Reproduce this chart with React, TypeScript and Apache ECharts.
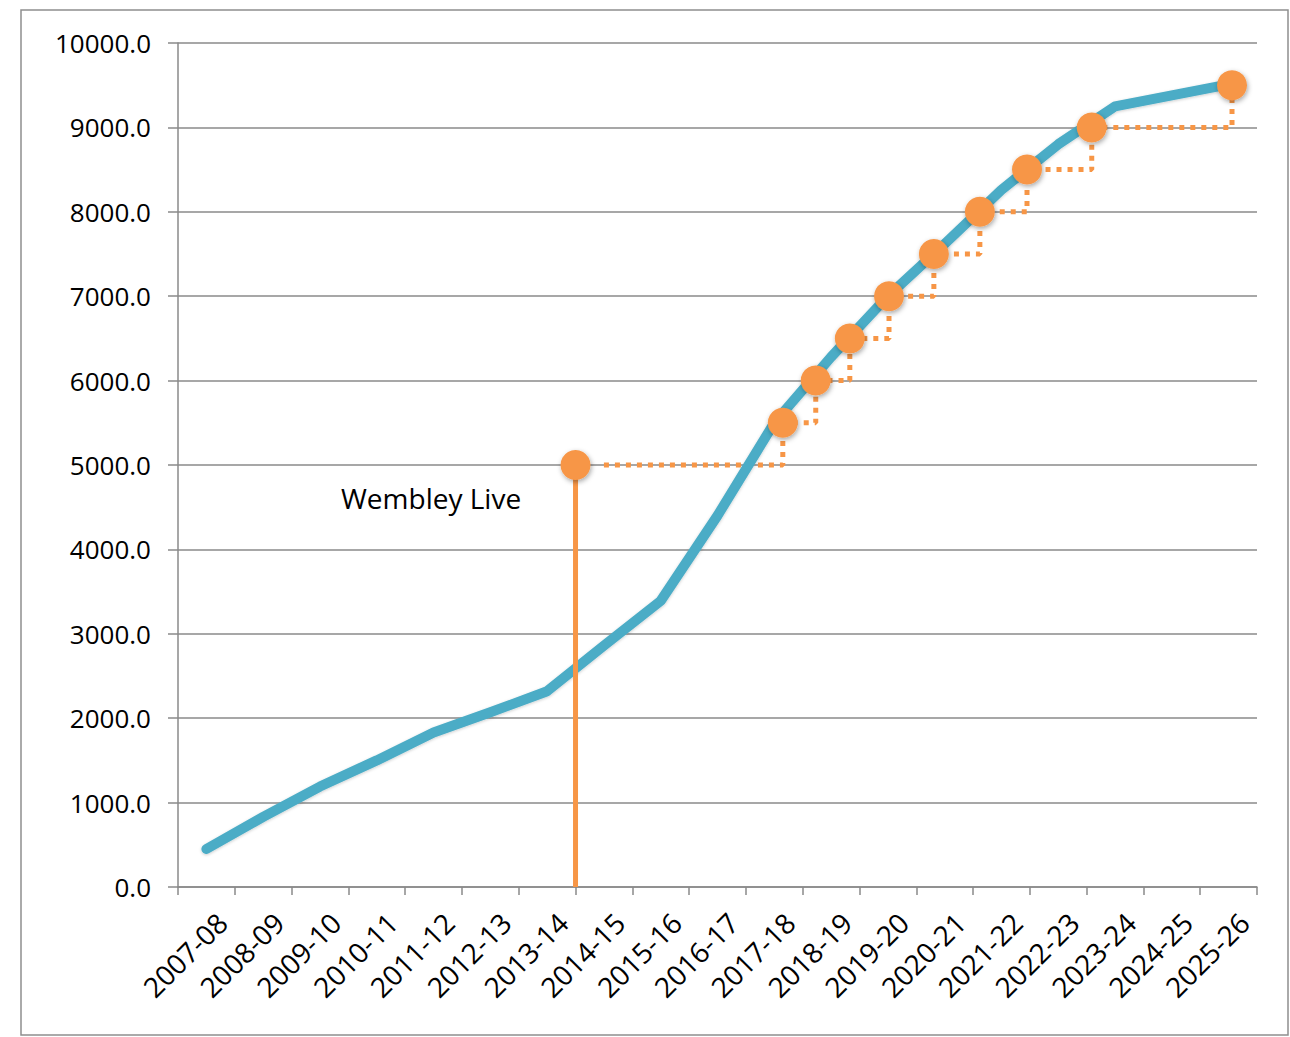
import React, { useEffect, useRef } from "react";
import * as echarts from "echarts";

const categories = [
  "2007-08", "2008-09", "2009-10", "2010-11", "2011-12", "2012-13", "2013-14",
  "2014-15", "2015-16", "2016-17", "2017-18", "2018-19", "2019-20", "2020-21",
  "2021-22", "2022-23", "2023-24", "2024-25", "2025-26",
];
const lineValues = [
  450, 830, 1190, 1500, 1830, 2070, 2320, 2860, 3390, 4400, 5500, 6280, 7000,
  7620, 8260, 8800, 9250, 9380, 9510,
];
// milestone markers: position along the category span (0..19) and value
const milestoneX = [7.0, 10.65, 11.23, 11.83, 12.52, 13.31, 14.12, 14.95, 16.09, 18.56];
const milestoneY = [5000, 5500, 6000, 6500, 7000, 7500, 8000, 8500, 9000, 9500];
const stepStartX = 7.5;
const wembleyX = 7.0;
const annotationText = "Wembley Live";

const Y_MIN = 0;
const Y_MAX = 10000;
const Y_INTERVAL = 1000;

const BLUE = "#4BACC6";
const ORANGE = "#F79646";
const GRID = "#8a8a8a";
const FONT = "Open Sans";

export default function App() {
  const ref = useRef<HTMLDivElement>(null);

  useEffect(() => {
    document.body.style.margin = "0";
    if (!ref.current) return;
    const chart = echarts.init(ref.current, null, { renderer: "svg" });

    const stepData = milestoneX.map((x, i) => [i === 0 ? stepStartX : x, milestoneY[i]]);
    const markerData = milestoneX.map((x, i) => [x, milestoneY[i]]);

    chart.setOption({
      animation: false,
      backgroundColor: "#ffffff",
      textStyle: { fontFamily: FONT },
      grid: { left: 178, right: 33, top: 43, bottom: 150, containLabel: false },
      xAxis: [
        {
          type: "category",
          data: categories,
          boundaryGap: true,
          axisLine: { show: true, lineStyle: { color: GRID, width: 1.5 } },
          axisTick: { show: true, length: 8, alignWithLabel: false, interval: 0, lineStyle: { color: GRID, width: 1.5 } },
          axisLabel: {
            interval: 0,
            rotate: 45,
            fontSize: 28,
            color: "#000",
            fontFamily: FONT,
            margin: 15,
            verticalAlign: "top",
            lineHeight: 44,
          },
          splitLine: { show: false },
        },
        {
          type: "value",
          min: 0,
          max: categories.length,
          show: false,
          splitLine: { show: false },
        },
      ],
      yAxis: {
        type: "value",
        min: Y_MIN,
        max: Y_MAX,
        interval: Y_INTERVAL,
        axisLine: { show: true, lineStyle: { color: GRID, width: 1.5 } },
        axisTick: { show: true, length: 10, inside: false, lineStyle: { color: GRID, width: 1.5 } },
        axisLabel: {
          fontSize: 26,
          color: "#000",
          fontFamily: FONT,
          margin: 27,
          formatter: (v: number) => v.toFixed(1),
        },
        splitLine: { show: true, lineStyle: { color: GRID, width: 1.5 } },
      },
      series: [
        {
          type: "line",
          xAxisIndex: 1,
          data: stepData,
          step: "end",
          symbol: "none",
          z: 2,
          lineStyle: { color: ORANGE, width: 5, type: [5, 6], cap: "butt" },
          silent: true,
        },
        {
          type: "line",
          xAxisIndex: 0,
          data: lineValues,
          symbol: "none",
          z: 3,
          lineStyle: {
            color: BLUE,
            width: 10,
            cap: "round",
            join: "round",
            shadowColor: "rgba(0,0,0,0.2)",
            shadowBlur: 3,
            shadowOffsetY: 1,
          },
        },
        {
          type: "line",
          xAxisIndex: 1,
          data: [
            [wembleyX, Y_MIN],
            [wembleyX, milestoneY[0]],
          ],
          symbol: "none",
          z: 4,
          lineStyle: { color: ORANGE, width: 5 },
        },
        {
          type: "scatter",
          xAxisIndex: 1,
          data: markerData,
          symbol: "circle",
          symbolSize: 30,
          z: 5,
          itemStyle: {
            color: ORANGE,
            opacity: 1,
            shadowColor: "rgba(0,0,0,0.35)",
            shadowBlur: 5,
            shadowOffsetX: 1,
            shadowOffsetY: 2,
          },
        },
      ],
      graphic: [
        {
          type: "rect",
          shape: { x: 21, y: 10, width: 1267, height: 1025 },
          style: { fill: "none", stroke: "#8f8f8f", lineWidth: 1.5 },
          silent: true,
          z: -1,
        },
        {
          type: "text",
          x: 341,
          y: 498,
          style: {
            text: annotationText,
            fontSize: 28,
            fontFamily: FONT,
            fill: "#000",
            textVerticalAlign: "middle",
            textAlign: "left",
          },
          z: 10,
        },
      ],
    });

    return () => chart.dispose();
  }, []);

  return <div ref={ref} style={{ width: 1290, height: 1037 }} />;
}
